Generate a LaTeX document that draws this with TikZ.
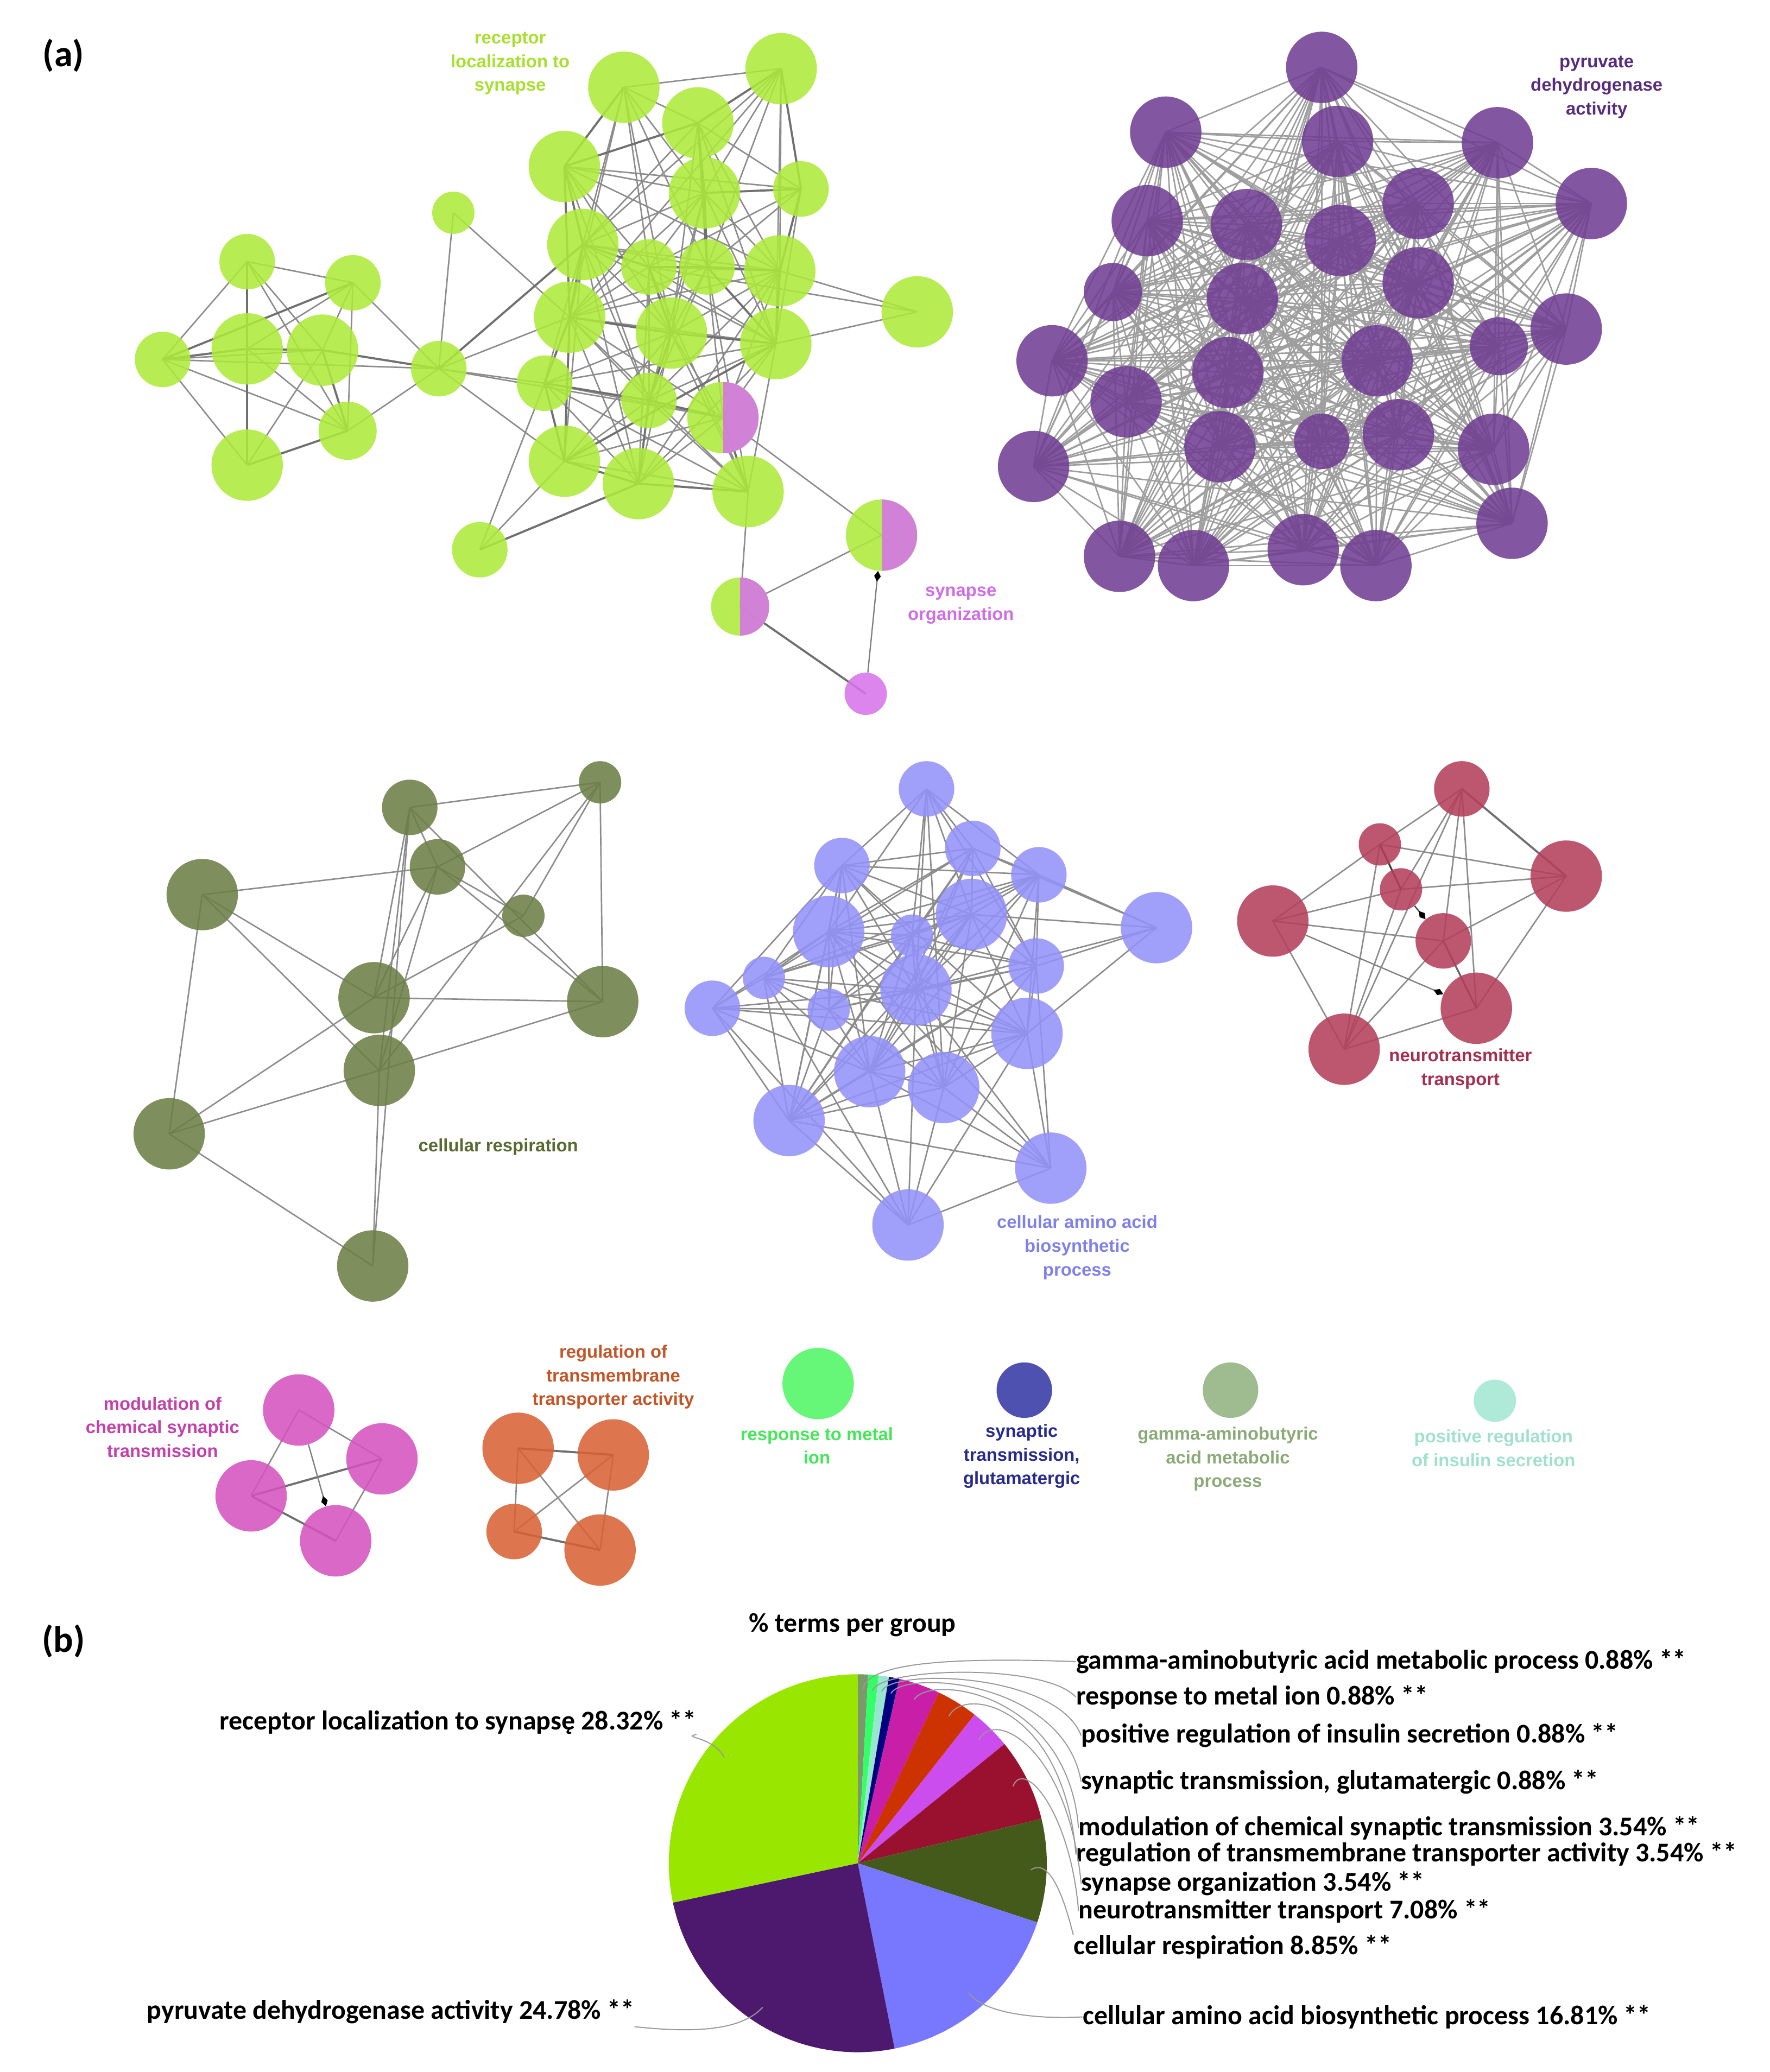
\documentclass[tikz,border=0pt]{standalone}
\usepackage{fontspec}
\setmainfont{Carlito}
\newfontfamily\labfont{Liberation Sans}
\usetikzlibrary{arrows.meta}
\pgfdeclarelayer{paper}
\pgfdeclarelayer{bg}
\pgfsetlayers{paper,bg,main}
% node colours
\definecolor{gcol}{RGB}{173,234,58}
\definecolor{pkc}{RGB}{214,115,235}
\definecolor{purc}{RGB}{112,62,146}
\definecolor{olc}{RGB}{108,126,70}
\definecolor{blc}{RGB}{146,146,250}
\definecolor{rdc}{RGB}{180,62,90}
\definecolor{mgc}{RGB}{212,82,190}
\definecolor{orc}{RGB}{216,98,52}
\definecolor{mtc}{RGB}{80,245,100}
\definecolor{glc}{RGB}{52,56,165}
\definecolor{gbc}{RGB}{145,178,128}
\definecolor{inc}{RGB}{164,232,212}
% label colours
\definecolor{lgreen}{RGB}{168,224,48}
\definecolor{lpink}{RGB}{208,110,230}
\definecolor{lpurp}{RGB}{88,44,124}
\definecolor{loliv}{RGB}{88,106,48}
\definecolor{lblue}{RGB}{128,128,235}
\definecolor{lred}{RGB}{165,45,78}
\definecolor{lmag}{RGB}{195,65,170}
\definecolor{lora}{RGB}{195,85,40}
\definecolor{lmetal}{RGB}{70,230,90}
\definecolor{lglut}{RGB}{40,42,140}
\definecolor{lgaba}{RGB}{140,170,120}
\definecolor{lins}{RGB}{160,225,205}
% pie colours
\definecolor{pR}{RGB}{153,230,0}
\definecolor{pP}{RGB}{77,25,110}
\definecolor{pA}{RGB}{120,120,255}
\definecolor{pC}{RGB}{68,90,26}
\definecolor{pN}{RGB}{153,17,46}
\definecolor{pS}{RGB}{204,77,238}
\definecolor{pT}{RGB}{204,51,0}
\definecolor{pM}{RGB}{200,30,168}
\definecolor{pG}{RGB}{0,0,128}
\definecolor{pI}{RGB}{153,230,208}
\definecolor{pMe}{RGB}{51,255,102}
\definecolor{pGa}{RGB}{122,154,106}
\begin{document}
\begin{tikzpicture}[x=1pt,y=-1pt,
  nd/.style={circle,inner sep=0pt,fill opacity=0.87},
  r27/.style={nd,minimum size=54pt},
  r22/.style={nd,minimum size=44pt},
  r21/.style={nd,minimum size=42pt},
  r16/.style={nd,minimum size=32pt},
  gn/.style={fill=gcol},
  pn/.style={fill=purc},
  on/.style={fill=olc},
  bn/.style={fill=blc},
  rn/.style={fill=rdc},
  mn/.style={fill=mgc},
  orn/.style={fill=orc},
  half/.style={fill=gcol,path picture={\fill[pkc] (path picture bounding box.north) rectangle (path picture bounding box.south east);}},
  ed/.style={draw=black!45,line width=1.1pt},
  edt/.style={draw=black!56,line width=1.6pt},
  edp/.style={draw=black!38,line width=1.1pt},
  arr/.style={draw=black!50,line width=1pt,-{Diamond[length=8pt,width=5pt,black]}},
  lab/.style={align=center,inner sep=0pt,font=\labfont\bfseries\fontsize{13.5}{18}\selectfont},
  pl/.style={inner sep=0pt,font=\bfseries\fontsize{20.5}{24}\selectfont},
  lead/.style={draw=black!40,line width=0.8pt}
]
\begin{pgfonlayer}{paper}
\fill[white] (0,0) rectangle (1339,1568);
\end{pgfonlayer}
\useasboundingbox (0,0) rectangle (1339,1568);

% panel letters
\node[inner sep=0pt,font=\bfseries\fontsize{28}{32}\selectfont] (pa) at (48,42) {(a)};
\node[inner sep=0pt,font=\bfseries\fontsize{28}{32}\selectfont] (pb) at (48,1242) {(b)};

% ---------- green cluster ----------
\node[r21,gn] (G1) at (187,198) {};
\node[r21,gn] (G2) at (267,214) {};
\node[r21,gn] (G3) at (123,272) {};
\node[r27,gn] (G4) at (187,264) {};
\node[r27,gn] (G5) at (244,265) {};
\node[r22,gn] (G6) at (263,326) {};
\node[r27,gn] (G7) at (187,352) {};
\node[r21,gn] (G8) at (332,279) {};
\node[r16,gn] (G9) at (343,161) {};
\node[r21,gn] (G10) at (363,416) {};
\node[r27,gn] (M1) at (472,66) {};
\node[r27,gn] (M2) at (591,52) {};
\node[r27,gn] (M3) at (528,93) {};
\node[r27,gn] (M4) at (427,126) {};
\node[r27,gn] (M5) at (533,146) {};
\node[r21,gn] (M6) at (606,143) {};
\node[r27,gn] (M7) at (441,185) {};
\node[r21,gn] (M8) at (491,202) {};
\node[r21,gn] (M9) at (535,202) {};
\node[r27,gn] (M10) at (590,205) {};
\node[r27,gn] (M11) at (694,236) {};
\node[r27,gn] (M12) at (431,240) {};
\node[r27,gn] (M13) at (508,252) {};
\node[r27,gn] (M14) at (587,260) {};
\node[r21,gn] (M15) at (412,290) {};
\node[r21,gn] (M16) at (491,303) {};
\node[r27,half] (M17) at (547,316) {};
\node[r27,gn] (M18) at (427,349) {};
\node[r27,gn] (M19) at (483,366) {};
\node[r27,gn] (M20) at (566,372) {};
\node[r27,half] (S1) at (667,405) {};
\node[r22,half] (S2) at (560,459) {};
\node[r16,fill=pkc] (S3) at (655,525) {};

% ---------- purple cluster ----------
\node[r27,pn] (P1) at (1000,51) {};
\node[r27,pn] (P2) at (882,100) {};
\node[r27,pn] (P3) at (1012,107) {};
\node[r27,pn] (P4) at (1133,108) {};
\node[r27,pn] (P5) at (1204,154) {};
\node[r27,pn] (P6) at (868,167) {};
\node[r27,pn] (P7) at (943,170) {};
\node[r27,pn] (P8) at (1073,154) {};
\node[r27,pn] (P9) at (1014,182) {};
\node[r22,pn] (P10) at (842,221) {};
\node[r27,pn] (P11) at (940,226) {};
\node[r27,pn] (P12) at (1073,214) {};
\node[r27,pn] (P13) at (1185,249) {};
\node[r27,pn] (P14) at (796,273) {};
\node[r27,pn] (P15) at (929,282) {};
\node[r27,pn] (P16) at (1042,273) {};
\node[r22,pn] (P17) at (1134,262) {};
\node[r27,pn] (P18) at (852,304) {};
\node[r27,pn] (P19) at (923,338) {};
\node[r21,pn] (P20) at (1000,334) {};
\node[r27,pn] (P21) at (1058,329) {};
\node[r27,pn] (P22) at (1130,340) {};
\node[r27,pn] (P23) at (782,353) {};
\node[r27,pn] (P24) at (1144,396) {};
\node[r27,pn] (P25) at (847,421) {};
\node[r27,pn] (P26) at (903,428) {};
\node[r27,pn] (P27) at (986,416) {};
\node[r27,pn] (P28) at (1041,428) {};

% ---------- olive cluster ----------
\node[r21,on] (O1) at (310,611) {};
\node[r16,on] (O2) at (454,592) {};
\node[r21,on] (O3) at (331,656) {};
\node[r27,on] (O4) at (153,677) {};
\node[r16,on] (O5) at (396,693) {};
\node[r27,on] (O6) at (283,755) {};
\node[r27,on] (O7) at (456,758) {};
\node[r27,on] (O8) at (287,810) {};
\node[r27,on] (O9) at (128,858) {};
\node[r27,on] (O10) at (282,958) {};

% ---------- blue cluster ----------
\node[r21,bn] (B1) at (701,597) {};
\node[r21,bn] (B2) at (736,642) {};
\node[r21,bn] (B3) at (637,655) {};
\node[r21,bn] (B4) at (786,662) {};
\node[r27,bn] (B5) at (627,705) {};
\node[r27,bn] (B6) at (735,692) {};
\node[r16,bn] (B7) at (690,708) {};
\node[r27,bn] (B8) at (875,702) {};
\node[r16,bn] (B9) at (578,740) {};
\node[r21,bn] (B10) at (784,731) {};
\node[r27,bn] (B11) at (693,749) {};
\node[r16,bn] (B12) at (627,764) {};
\node[r21,bn] (B13) at (539,763) {};
\node[r27,bn] (B14) at (777,782) {};
\node[r27,bn] (B15) at (658,811) {};
\node[r27,bn] (B16) at (714,823) {};
\node[r27,bn] (B17) at (597,848) {};
\node[r27,bn] (B18) at (795,884) {};
\node[r27,bn] (B19) at (687,927) {};

% ---------- red cluster ----------
\node[r21,rn] (R1) at (1106,597) {};
\node[r16,rn] (R2) at (1044,639) {};
\node[r27,rn] (R3) at (1185,663) {};
\node[r16,rn] (R4) at (1060,673) {};
\node[r27,rn] (R5) at (963,697) {};
\node[r21,rn] (R6) at (1092,712) {};
\node[r27,rn] (R7) at (1117,763) {};
\node[r27,rn] (R8) at (1017,794) {};

% ---------- bottom row ----------
\node[r27,mn] (C1) at (226,1067) {};
\node[r27,mn] (C2) at (289,1104) {};
\node[r27,mn] (C3) at (190,1132) {};
\node[r27,mn] (C4) at (254,1166) {};
\node[r27,orn] (D1) at (392,1096) {};
\node[r27,orn] (D2) at (464,1101) {};
\node[r21,orn] (D3) at (389,1159) {};
\node[r27,orn] (D4) at (454,1173) {};
\node[r27,fill=mtc] (N1) at (619,1047) {};
\node[r21,fill=glc] (N2) at (775,1052) {};
\node[r21,fill=gbc] (N3) at (931,1052) {};
\node[r16,fill=inc] (N4) at (1131,1060) {};

% ---------- edges (under nodes) ----------
\begin{pgfonlayer}{bg}
\foreach \a/\b in {G1/G2,G1/G3,G1/G4,G1/G5,G1/G6,G2/G4,G2/G5,G2/G6,G2/G8,G3/G5,G3/G7,G3/G6,G3/G8,G4/G6,G5/G7,G6/G8,G1/G7,
  G8/G9,G8/M12,G8/M15,G8/M17,G8/M18,G9/M12,G10/M18,G10/M15,
  M1/M2,M1/M3,M1/M5,M1/M7,M1/M8,M1/M9,M1/M12,M1/M13,M2/M5,M2/M9,M2/M10,M2/M14,M2/M7,M2/M12,
  M3/M6,M3/M7,M3/M10,M3/M13,M3/M14,M4/M5,M4/M6,M4/M8,M4/M10,M4/M13,M4/M16,
  M5/M7,M5/M8,M5/M10,M5/M13,M5/M14,M5/M12,M5/M16,M6/M14,M6/M9,M6/M8,
  M7/M9,M7/M10,M7/M13,M7/M15,M7/M16,M7/M19,M7/M14,M7/M18,M8/M10,M8/M12,M8/M16,M8/M19,M8/M20,M8/M14,M8/M11,
  M9/M12,M9/M13,M9/M16,M9/M17,M9/M20,M10/M11,M10/M12,M10/M13,M10/M16,M10/M17,M10/M19,M11/M14,
  M12/M14,M12/M16,M12/M17,M12/M19,M12/M20,M13/M15,M13/M17,M13/M18,M13/M19,M13/M20,
  M14/M16,M14/M17,M14/M19,M14/M20,M14/M15,M15/M17,M15/M19,M15/M20,M16/M18,M16/M20,M17/M18,M17/M19,M18/M20,
  S1/M17,S1/S2,S2/M20}
  \draw[ed] (\a.center) -- (\b.center);
\foreach \a/\b in {G1/G4,G2/G3,G3/G4,G4/G5,G4/G7,G5/G6,G6/G7,G5/G8,G8/M7,G10/M19,M1/M4,M2/M3,M2/M6,M3/M4,M3/M5,M3/M9,M4/M7,M4/M12,M5/M6,M5/M9,M6/M10,M7/M8,M7/M12,M8/M9,M8/M13,M9/M10,M9/M14,M10/M14,M12/M13,M12/M15,M12/M18,M13/M14,M13/M16,M14/M18,M15/M16,M15/M18,M16/M17,M16/M19,M17/M20,M18/M19,M19/M20,S2/S3}
  \draw[edt] (\a.center) -- (\b.center);
\foreach \i in {1,...,27}{\pgfmathtruncatemacro{\s}{\i+1}\foreach \j in {\s,...,28}{\draw[edp] (P\i.center) -- (P\j.center);}}
\foreach \a/\b in {O1/O2,O1/O3,O1/O6,O1/O8,O1/O10,O2/O3,O2/O5,O2/O7,O2/O8,O3/O4,O3/O5,O3/O6,O3/O8,O4/O6,O4/O8,O4/O9,O5/O6,O6/O7,O6/O9,O7/O8,O8/O9,O8/O10,O9/O10,O1/O7,O3/O7}
  \draw[ed] (\a.center) -- (\b.center);
\foreach \a/\b in {B1/B2,B1/B3,B1/B4,B1/B5,B1/B6,B1/B7,B1/B11,B1/B16,B1/B10,
  B2/B3,B2/B4,B2/B5,B2/B6,B2/B7,B2/B8,B2/B9,B2/B10,B2/B11,B2/B15,B2/B17,
  B3/B5,B3/B6,B3/B7,B3/B9,B3/B11,B3/B12,B3/B13,B3/B14,B3/B15,B3/B17,B3/B4,
  B4/B5,B4/B6,B4/B7,B4/B8,B4/B10,B4/B11,B4/B14,B4/B15,B4/B16,B4/B9,
  B5/B6,B5/B7,B5/B9,B5/B10,B5/B11,B5/B12,B5/B13,B5/B14,B5/B15,B5/B16,B5/B17,B5/B18,
  B6/B7,B6/B8,B6/B9,B6/B10,B6/B11,B6/B12,B6/B14,B6/B15,B6/B16,B6/B17,
  B7/B9,B7/B10,B7/B11,B7/B12,B7/B15,B7/B16,B7/B17,B8/B10,B8/B14,B8/B11,
  B9/B11,B9/B12,B9/B13,B9/B14,B9/B15,B9/B17,B9/B19,B10/B11,B10/B12,B10/B14,B10/B15,B10/B16,B10/B17,B10/B18,
  B11/B12,B11/B13,B11/B14,B11/B15,B11/B16,B11/B17,B11/B18,B11/B19,B12/B13,B12/B15,B12/B16,B12/B17,
  B13/B14,B13/B15,B13/B17,B13/B19,B14/B15,B14/B16,B14/B17,B14/B18,B14/B19,
  B15/B16,B15/B17,B15/B18,B15/B19,B16/B17,B16/B18,B16/B19,B17/B18,B17/B19,B18/B19}
  \draw[ed] (\a.center) -- (\b.center);
\foreach \a/\b in {R1/R2,R1/R4,R1/R6,R1/R7,R1/R8,R2/R5,R2/R3,R2/R8,R4/R3,R4/R5,R4/R8,R5/R6,R5/R8,R6/R3,R6/R8,R3/R7,R7/R8}
  \draw[ed] (\a.center) -- (\b.center);
\draw[edt] (R1.center) -- (R3.center);
\draw[draw=black!75,line width=1.4pt] (R2.center) -- (R4.center);
\draw[draw=black!60,line width=1.4pt] (R6.center) -- (R7.center);
\foreach \a/\b in {C1/C2,C1/C3,C2/C4}
  \draw[ed] (\a.center) -- (\b.center);
\foreach \a/\b in {C3/C2,C3/C4}
  \draw[edt] (\a.center) -- (\b.center);
\foreach \a/\b in {D1/D3,D1/D4,D2/D3,D2/D4}
  \draw[ed] (\a.center) -- (\b.center);
\foreach \a/\b in {D1/D2,D3/D4}
  \draw[edt] (\a.center) -- (\b.center);
\end{pgfonlayer}

% directed edges
\draw[arr] (S3) -- (S1);
\draw[arr,draw=black!75] (R4) -- (R6);
\draw[arr] (R5) -- (R7);
\draw[arr] (C1) -- (C4);

% ---------- cluster labels ----------
\node[lab,text=lgreen] (Lrec) at (386,48) {receptor\\localization to\\synapse};
\node[lab,text=lpurp] (Lpyr) at (1208,66) {pyruvate\\dehydrogenase\\activity};
\node[lab,text=lpink] (Lsyn) at (727,458) {synapse\\organization};
\node[lab,text=loliv] (Lres) at (377,868) {cellular respiration};
\node[lab,text=lblue] (Lami) at (815,944) {cellular amino acid\\biosynthetic\\process};
\node[lab,text=lred] (Lneu) at (1105,809) {neurotransmitter\\transport};
\node[lab,text=lmag] (Lmod) at (123,1080) {modulation of\\chemical synaptic\\transmission};
\node[lab,text=lora] (Lreg) at (464,1042) {regulation of\\transmembrane\\transporter activity};
\node[lab,text=lmetal] (Lmet) at (618,1094) {response to metal\\ion};
\node[lab,text=lglut] (Lglu) at (773,1102) {synaptic\\transmission,\\glutamatergic};
\node[lab,text=lgaba] (Lgab) at (929,1104) {gamma-aminobutyric\\acid metabolic\\process};
\node[lab,text=lins] (Lins) at (1130,1096) {positive regulation\\of insulin secretion};

% ---------- pie chart ----------
\node[pl,anchor=base] (ptitle) at (645,1235) {\% terms per group};
\begin{scope}[shift={(649,1410)}]
\foreach \a/\b/\c in {90/86.832/pGa,86.832/83.664/pMe,83.664/80.496/pI,80.496/77.328/pG,77.328/64.584/pM,64.584/51.84/pT,51.84/39.096/pS,39.096/13.608/pN,13.608/-18.252/pC,-18.252/-78.768/pA,-78.768/-167.976/pP,-167.976/-270/pR}
  \fill[\c] (0,0) -- (\a:143pt) arc[start angle=\a,end angle=\b,radius=143pt] -- cycle;
\end{scope}

% pie labels
\node[pl,anchor=base east] (tR) at (527,1309) {receptor localization to synapsę 28.32\% **};
\node[pl,anchor=base east] (tP) at (480,1528) {pyruvate dehydrogenase activity 24.78\% **};
\node[pl,anchor=base west] (tGa) at (814,1263) {gamma-aminobutyric acid metabolic process 0.88\% **};
\node[pl,anchor=base west] (tMe) at (814,1290) {response to metal ion 0.88\% **};
\node[pl,anchor=base west] (tI) at (818,1319) {positive regulation of insulin secretion 0.88\% **};
\node[pl,anchor=base west] (tG) at (818,1354) {synaptic transmission, glutamatergic 0.88\% **};
\node[pl,anchor=base west] (tM) at (816,1389) {modulation of chemical synaptic transmission 3.54\% **};
\node[pl,anchor=base west] (tT) at (814,1409) {regulation of transmembrane transporter activity 3.54\% **};
\node[pl,anchor=base west] (tS) at (818,1431) {synapse organization 3.54\% **};
\node[pl,anchor=base west] (tN) at (816,1452) {neurotransmitter transport 7.08\% **};
\node[pl,anchor=base west] (tC) at (812,1479) {cellular respiration 8.85\% **};
\node[pl,anchor=base west] (tA) at (819,1532) {cellular amino acid biosynthetic process 16.81\% **};

% leader lines
\coordinate (kR) at (548,1330);
\coordinate (kP) at (577,1519);
\coordinate (kA) at (733,1508);
\coordinate (kGa) at (652.7,1279);
\coordinate (kMe) at (660,1279.5);
\coordinate (kI) at (667,1280);
\coordinate (kG) at (674,1281.5);
\coordinate (kM) at (691.7,1286);
\coordinate (kT) at (718,1298.7);
\coordinate (kS) at (740.8,1316.6);
\coordinate (kN) at (766.4,1351.8);
\coordinate (kC) at (780,1415);
\draw[lead] (kR) .. controls (540,1314) and (515,1315) .. (tR.south east);
\draw[lead] (kP) .. controls (560,1538) and (520,1538) .. ([yshift=-2pt]tP.south east);
\draw[lead] (kA) .. controls (745,1525) and (790,1528) .. (tA.west);
\draw[lead] (kGa) .. controls (655,1258) and (720,1254) .. (tGa.west);
\draw[lead] (kMe) .. controls (665,1262) and (790,1258) .. (tMe.west);
\draw[lead] (kI) .. controls (675,1262) and (800,1266) .. (tI.west);
\draw[lead] (kG) .. controls (685,1263) and (805,1272) .. (tG.west);
\draw[lead] (kM) .. controls (705,1266) and (808,1282) .. (tM.west);
\draw[lead] (kT) .. controls (730,1275) and (805,1292) .. (tT.west);
\draw[lead] (kS) .. controls (752,1293) and (808,1322) .. (tS.west);
\draw[lead] (kN) .. controls (775,1330) and (810,1372) .. (tN.west);
\draw[lead] (kC) .. controls (795,1405) and (806,1440) .. (tC.north west);
\end{tikzpicture}
\end{document}
